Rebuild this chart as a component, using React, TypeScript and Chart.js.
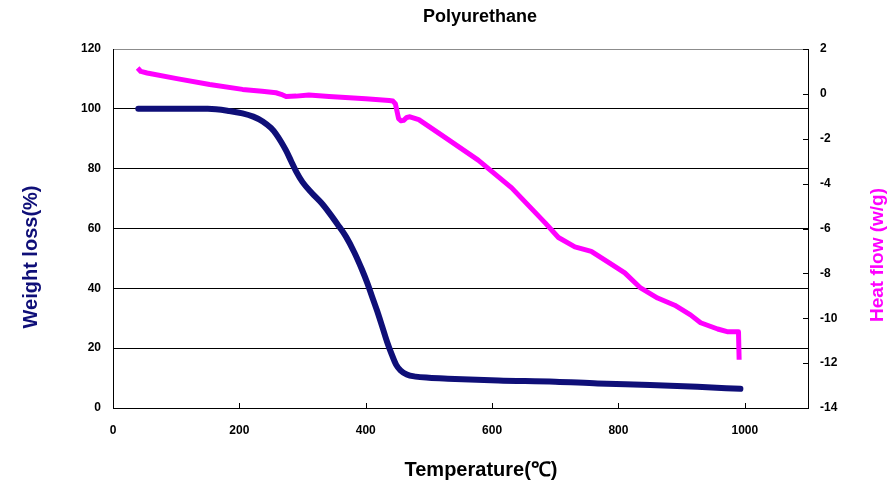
import React, { useEffect, useRef } from "react";
import { Chart, registerables } from "chart.js";

Chart.register(...registerables);

const chartTitle = "Polyurethane";
const xTitle = "Temperature(℃)";
const leftTitle = "Weight loss(%)";
const rightTitle = "Heat flow (w/g)";

const weightTemp = [40, 100, 150, 184, 205, 222, 237, 250, 258, 266, 274, 282, 290, 300, 315, 330, 342, 355, 369, 382, 394, 403, 410, 418, 426, 434, 441, 448, 455, 465, 479, 500, 530, 610, 700, 767, 850, 925, 993];
const weightLoss = [100, 100, 100, 99.3, 98.5, 97.4, 95.8, 93.6, 91.6, 89, 86, 82.5, 79, 75.5, 71.8, 68.5, 65.3, 61.5, 57.2, 52, 46.3, 41.5, 37.3, 32.5, 27.3, 22, 18, 14.5, 12.6, 11.2, 10.5, 10.1, 9.8, 9.2, 8.8, 8.2, 7.7, 7.1, 6.4];

const heatTemp = [39, 44, 54, 101, 153, 205, 236, 258, 266, 274, 290, 310, 342, 400, 437, 443, 447, 452, 456, 460, 465, 470, 484, 526, 578, 631, 684, 705, 731, 757, 783, 810, 835, 862, 889, 914, 930, 957, 972, 990, 991];
const heatFlow = [1.15, 1.0, 0.93, 0.68, 0.42, 0.2, 0.12, 0.05, -0.02, -0.12, -0.1, -0.05, -0.12, -0.22, -0.3, -0.32, -0.45, -1.1, -1.2, -1.18, -1.05, -1.02, -1.15, -1.95, -2.95, -4.19, -5.75, -6.4, -6.82, -7.02, -7.49, -7.98, -8.65, -9.1, -9.42, -9.85, -10.2, -10.48, -10.6, -10.6, -11.85];

const xTicks = [0, 200, 400, 600, 800, 1000];
const leftTicks = [0, 20, 40, 60, 80, 100, 120];
const rightTicks = [-14, -12, -10, -8, -6, -4, -2, 0, 2];

const NAVY = "#0f0f78";
const MAGENTA = "#ff00ff";
const FONT = "'Liberation Sans', Arial, sans-serif";

const decorPlugin = {
  id: "decor",
  afterDraw(chart: any) {
    const ctx = chart.ctx;
    const xs = chart.scales.x;
    const y2 = chart.scales.y2;
    const area = chart.chartArea;
    ctx.save();
    ctx.strokeStyle = "#000";
    ctx.lineWidth = 1;
    ctx.beginPath();
    xTicks.forEach((v) => {
      const px = Math.round(xs.getPixelForValue(v)) + 0.5;
      ctx.moveTo(px, area.bottom);
      ctx.lineTo(px, area.bottom - 5);
    });
    rightTicks.forEach((v) => {
      const py = Math.round(y2.getPixelForValue(v)) + 0.5;
      ctx.moveTo(area.right, py);
      ctx.lineTo(area.right - 5, py);
    });
    ctx.stroke();

    ctx.textAlign = "center";
    ctx.textBaseline = "middle";
    ctx.fillStyle = "#000";
    ctx.font = `bold 18px ${FONT}`;
    ctx.fillText(chartTitle, 480, 17);
    ctx.font = `bold 20px ${FONT}`;
    ctx.fillText(xTitle, 481, 470);

    ctx.save();
    ctx.translate(31, 257);
    ctx.rotate(-Math.PI / 2);
    ctx.fillStyle = NAVY;
    ctx.font = `bold 20px ${FONT}`;
    ctx.fillText(leftTitle, 0, 0);
    ctx.restore();

    ctx.save();
    ctx.translate(878, 255);
    ctx.rotate(-Math.PI / 2);
    ctx.fillStyle = MAGENTA;
    ctx.font = `bold 19px ${FONT}`;
    ctx.fillText(rightTitle, 0, 0);
    ctx.restore();

    ctx.restore();
  },
};

export default function App() {
  const ref = useRef<HTMLCanvasElement | null>(null);
  useEffect(() => {
    if (!ref.current) return;
    const tickFont = { family: FONT, size: 12, weight: "bold" as const };
    const plain = (v: any) => String(v);
    const chart = new Chart(ref.current, {
      type: "scatter",
      data: {
        datasets: [
          {
            label: "Weight loss",
            data: weightTemp.map((t, i) => ({ x: t, y: weightLoss[i] })),
            yAxisID: "y",
            showLine: true,
            borderColor: NAVY,
            backgroundColor: NAVY,
            borderWidth: 6,
            pointRadius: 0,
            cubicInterpolationMode: "monotone",
            borderCapStyle: "round",
            borderJoinStyle: "round",
          },
          {
            label: "Heat flow",
            data: heatTemp.map((t, i) => ({ x: t, y: heatFlow[i] })),
            yAxisID: "y2",
            showLine: true,
            borderColor: MAGENTA,
            backgroundColor: MAGENTA,
            borderWidth: 5,
            pointRadius: 0,
            tension: 0,
            borderCapStyle: "butt",
            borderJoinStyle: "round",
          },
        ],
      },
      options: {
        animation: false,
        responsive: true,
        maintainAspectRatio: false,
        layout: { padding: { top: 49, left: 0, right: 0, bottom: 0 } },
        plugins: { legend: { display: false }, title: { display: false }, tooltip: { enabled: false } },
        scales: {
          x: {
            type: "linear",
            min: 0,
            max: 1100,
            afterBuildTicks: (s: any) => {
              s.ticks = xTicks.map((v) => ({ value: v }));
            },
            afterFit: (s: any) => {
              s.height = 90;
            },
            grid: { display: false },
            border: { display: true, color: "#000", width: 1 },
            ticks: { color: "#000", font: tickFont, padding: 7, maxRotation: 0, callback: plain },
          },
          y: {
            type: "linear",
            position: "left",
            min: 0,
            max: 120,
            afterBuildTicks: (s: any) => {
              s.ticks = leftTicks.map((v) => ({ value: v }));
            },
            afterFit: (s: any) => {
              s.width = 113;
            },
            grid: {
              drawTicks: false,
              color: (c: any) => (c.tick && c.tick.value === 120 ? "#8c8c8c" : "#000"),
              lineWidth: 1,
            },
            border: { display: true, color: "#000", width: 1 },
            ticks: { color: "#000", font: tickFont, padding: 12, callback: plain },
          },
          y2: {
            type: "linear",
            position: "right",
            min: -14,
            max: 2,
            afterBuildTicks: (s: any) => {
              s.ticks = rightTicks.map((v) => ({ value: v }));
            },
            afterFit: (s: any) => {
              s.width = 85;
            },
            grid: { drawOnChartArea: false, drawTicks: false },
            border: { display: true, color: "#000", width: 1 },
            ticks: { color: "#000", font: tickFont, padding: 12, callback: plain },
          },
        },
      },
      plugins: [decorPlugin],
    });
    return () => chart.destroy();
  }, []);
  return (
    <div style={{ position: "absolute", left: 0, top: 0, width: 893, height: 498, background: "#fff" }}>
      <canvas ref={ref} />
    </div>
  );
}
